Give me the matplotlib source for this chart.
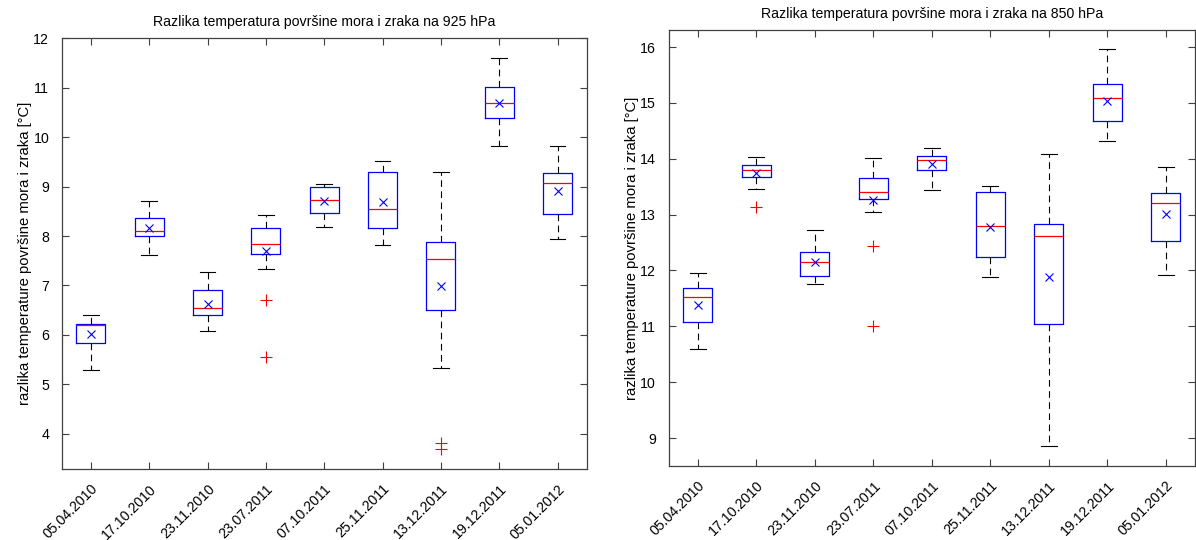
import matplotlib
matplotlib.use("Agg")
import matplotlib.pyplot as plt

plt.rcParams['font.family'] = ['Liberation Sans', 'DejaVu Sans']

dates = ["05.04.2010", "17.10.2010", "23.11.2010", "23.07.2011", "07.10.2011",
         "25.11.2011", "13.12.2011", "19.12.2011", "05.01.2012"]

# 925 hPa
w_lo_925 = [5.29, 7.61, 6.07, 7.34, 8.18, 7.81, 5.33, 9.82, 7.94]
q1_925 = [5.83, 8.01, 6.40, 7.63, 8.47, 8.16, 6.50, 10.39, 8.44]
med_925 = [6.20, 8.11, 6.54, 7.83, 8.72, 8.54, 7.54, 10.69, 9.07]
q3_925 = [6.23, 8.37, 6.90, 8.16, 9.00, 9.29, 7.87, 11.01, 9.27]
w_hi_925 = [6.40, 8.71, 7.27, 8.42, 9.05, 9.52, 9.29, 11.61, 9.82]
mean_925 = [6.01, 8.16, 6.62, 7.69, 8.70, 8.68, 6.99, 10.70, 8.92]
out_925 = [[], [], [], [6.70, 5.55], [], [], [3.81, 3.69], [], []]

# 850 hPa
w_lo_850 = [10.59, 13.45, 11.76, 13.05, 13.44, 11.89, 8.85, 14.32, 11.92]
q1_850 = [11.07, 13.67, 11.91, 13.28, 13.79, 12.24, 11.04, 14.67, 12.52]
med_850 = [11.53, 13.80, 12.16, 13.40, 13.98, 12.80, 12.61, 15.09, 13.21]
q3_850 = [11.69, 13.88, 12.33, 13.66, 14.05, 13.41, 12.84, 15.33, 13.39]
w_hi_850 = [11.95, 14.04, 12.73, 14.01, 14.20, 13.52, 14.09, 15.96, 13.86]
mean_850 = [11.39, 13.75, 12.15, 13.27, 13.91, 12.78, 11.89, 15.03, 13.01]
out_850 = [[], [13.13], [], [12.43, 11.00], [], [], [], [], []]

title_925 = "Razlika temperatura površine mora i zraka na 925 hPa"
title_850 = "Razlika temperatura površine mora i zraka na 850 hPa"
ylabel = "razlika temperature površine mora i zraka [°C]"

AX_COLOR = "#404040"


def make_stats(lo, q1, med, q3, hi, mean, out):
    stats = []
    for i in range(len(lo)):
        stats.append(dict(whislo=lo[i], q1=q1[i], med=med[i], q3=q3[i],
                          whishi=hi[i], mean=mean[i], fliers=out[i]))
    return stats


def draw(ax, stats, title, ylim, yticks):
    ax.bxp(stats, positions=range(1, len(stats) + 1), widths=0.5,
           capwidths=0.27, showmeans=True, showfliers=True,
           boxprops=dict(color="#0000ff", linewidth=0.9),
           medianprops=dict(color="#ff0000", linewidth=0.9),
           whiskerprops=dict(color="#000000", linewidth=0.8,
                             linestyle=(0, (6, 4))),
           capprops=dict(color="#000000", linewidth=0.8),
           meanprops=dict(marker="x", markeredgecolor="#0000ff",
                          markersize=6, markeredgewidth=0.8),
           flierprops=dict(marker="+", markeredgecolor="#ff0000",
                           markersize=8, markeredgewidth=0.8))
    ax.set_xlim(0.5, len(stats) + 0.5)
    ax.set_ylim(*ylim)
    ax.set_yticks(yticks)
    ax.set_xticks(range(1, len(stats) + 1))
    ax.set_xticklabels(dates, rotation=45, ha="right", va="top",
                       rotation_mode="anchor")
    ax.tick_params(direction="in", length=5, width=0.8, color=AX_COLOR,
                   top=True, right=True, labelsize=10.2)
    ax.tick_params(axis="y", pad=9)
    ax.tick_params(axis="x", pad=9)
    for sp in ax.spines.values():
        sp.set_color(AX_COLOR)
        sp.set_linewidth(0.9)
    ax.set_title(title, fontsize=10.2, pad=9)
    ax.set_ylabel(ylabel, fontsize=10.7, labelpad=1)


fig = plt.figure(figsize=(11.96, 5.40), dpi=100)
ax1 = fig.add_axes([0.0516, 0.1309, 0.439, 0.798])
ax2 = fig.add_axes([0.559, 0.137, 0.4402, 0.807])

draw(ax1, make_stats(w_lo_925, q1_925, med_925, q3_925, w_hi_925, mean_925, out_925),
     title_925, (3.28, 12), range(4, 13))
draw(ax2, make_stats(w_lo_850, q1_850, med_850, q3_850, w_hi_850, mean_850, out_850),
     title_850, (8.5, 16.3), range(9, 17))

fig.savefig("out.png", dpi=100)
